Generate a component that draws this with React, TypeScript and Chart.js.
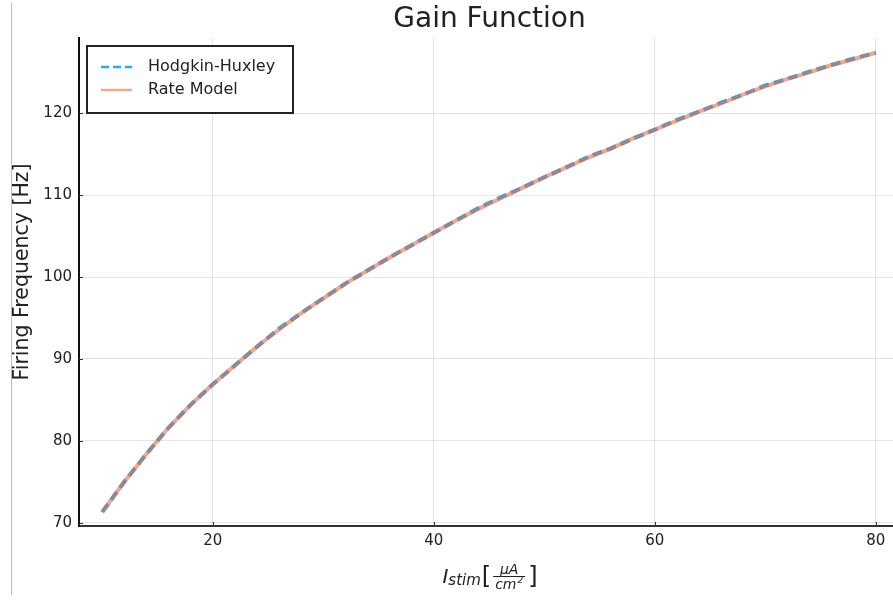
import React, { useEffect, useRef } from "react";
import { Chart, registerables } from "chart.js";
Chart.register(...registerables);

const currents = [10, 12, 14, 16, 18, 20, 22, 24, 26, 28, 30, 32, 34, 36, 38, 40, 42, 44, 46, 48, 50, 52, 54, 56, 58, 60, 62, 64, 66, 68, 70, 72, 74, 76, 78, 80];
const hhRates = [71.3, 75.0, 78.4, 81.6, 84.4, 86.9, 89.2, 91.5, 93.7, 95.6, 97.4, 99.2, 100.8, 102.4, 103.9, 105.4, 106.9, 108.4, 109.7, 110.9, 112.2, 113.4, 114.7, 115.7, 116.9, 118.0, 119.2, 120.2, 121.3, 122.3, 123.4, 124.2, 125.1, 125.9, 126.7, 127.4];
const rateModelRates = [71.3, 75.0, 78.4, 81.6, 84.4, 86.9, 89.2, 91.5, 93.6, 95.6, 97.4, 99.2, 100.8, 102.4, 103.9, 105.4, 106.9, 108.3, 109.6, 110.9, 112.2, 113.4, 114.6, 115.7, 116.9, 118.0, 119.1, 120.2, 121.2, 122.3, 123.3, 124.2, 125.0, 125.9, 126.6, 127.4];
const xTicks = [20, 40, 60, 80];
const yTicks = [70, 80, 90, 100, 110, 120];
const seriesNames = ["Hodgkin-Huxley", "Rate Model"];
const chartTitle = "Gain Function";
const yAxisLabel = "Firing Frequency [Hz]";

const FONT = "'DejaVu Sans', sans-serif";
const HH_COLOR = "rgba(0,154,250,0.85)";
const RATE_COLOR = "rgba(227,111,71,0.6)";
const TEXT = "#222";

const decorPlugin = {
  id: "decor",
  beforeDraw(chart: any) {
    const ctx = chart.ctx;
    ctx.save();
    ctx.strokeStyle = "#bdbdbd";
    ctx.lineWidth = 1;
    ctx.beginPath();
    ctx.moveTo(11.5, 3);
    ctx.lineTo(11.5, 595);
    ctx.stroke();
    ctx.restore();
  },
  afterDraw(chart: any) {
    const ctx = chart.ctx;
    const area = chart.chartArea;
    const xs = chart.scales.x;
    const ys = chart.scales.y;
    ctx.save();
    // inward tick marks
    ctx.strokeStyle = "#333";
    ctx.lineWidth = 1;
    ctx.beginPath();
    xTicks.forEach((v) => {
      const px = Math.round(xs.getPixelForValue(v)) + 0.5;
      ctx.moveTo(px, area.bottom);
      ctx.lineTo(px, area.bottom - 4);
    });
    yTicks.forEach((v) => {
      const py = Math.round(ys.getPixelForValue(v)) + 0.5;
      ctx.moveTo(area.left, py);
      ctx.lineTo(area.left + 4, py);
    });
    ctx.stroke();

    // title
    ctx.fillStyle = TEXT;
    ctx.font = `28px ${FONT}`;
    ctx.textAlign = "center";
    ctx.textBaseline = "alphabetic";
    ctx.fillText(chartTitle, 489.5, 27);

    // y label
    ctx.save();
    ctx.translate(28, 272);
    ctx.rotate(-Math.PI / 2);
    ctx.font = `20.5px ${FONT}`;
    ctx.textAlign = "center";
    ctx.fillText(yAxisLabel, 0, 0);
    ctx.restore();

    // x label: I_stim [ μA / cm² ]
    ctx.textAlign = "left";
    const fI = `italic 20px ${FONT}`;
    const fS = `italic 15px ${FONT}`;
    const fB = `24px ${FONT}`;
    const fF = `italic 14px ${FONT}`;
    const fSup = `italic 9px ${FONT}`;
    ctx.font = fI; const wI = ctx.measureText("I").width;
    ctx.font = fS; const wS = ctx.measureText("stim").width;
    ctx.font = fB; const wB1 = ctx.measureText("[").width; const wB2 = ctx.measureText("]").width;
    ctx.font = fF; const wNum = ctx.measureText("μA").width; const wCm = ctx.measureText("cm").width;
    ctx.font = fSup; const wSup = ctx.measureText("2").width;
    const wDen = wCm + wSup + 1;
    const wFrac = Math.max(wNum, wDen) + 4;
    const total = wI + wS + 1 + wB1 + 2 + wFrac + 3 + wB2;
    let x = (area.left + area.right) / 2 - total / 2 + 1;
    ctx.font = fI; ctx.fillText("I", x, 583); x += wI;
    ctx.font = fS; ctx.fillText("stim", x, 585); x += wS + 1;
    ctx.font = fB; ctx.fillText("[", x, 584); x += wB1 + 2;
    const fx = x;
    ctx.font = fF; ctx.fillText("μA", fx + (wFrac - wNum) / 2, 574);
    ctx.fillText("cm", fx + (wFrac - wDen) / 2, 589);
    ctx.font = fSup; ctx.fillText("2", fx + (wFrac - wDen) / 2 + wCm + 1, 583);
    ctx.strokeStyle = TEXT;
    ctx.lineWidth = 1;
    ctx.beginPath();
    ctx.moveTo(fx, 576.5);
    ctx.lineTo(fx + wFrac, 576.5);
    ctx.stroke();
    x += wFrac + 3;
    ctx.font = fB; ctx.fillText("]", x, 584);

    // legend
    ctx.fillStyle = "#fff";
    ctx.fillRect(87, 46, 206, 67);
    ctx.strokeStyle = "#222";
    ctx.lineWidth = 2;
    ctx.strokeRect(87, 46, 206, 67);
    const rows = [
      { name: seriesNames[0], color: HH_COLOR, dash: [8, 4], y: 67 },
      { name: seriesNames[1], color: RATE_COLOR, dash: [], y: 90 },
    ];
    rows.forEach((r) => {
      ctx.strokeStyle = r.color;
      ctx.lineWidth = 2.5;
      ctx.setLineDash(r.dash);
      ctx.beginPath();
      ctx.moveTo(101, r.y);
      ctx.lineTo(132, r.y);
      ctx.stroke();
      ctx.setLineDash([]);
      ctx.fillStyle = TEXT;
      ctx.font = `16px ${FONT}`;
      ctx.textBaseline = "middle";
      ctx.fillText(r.name, 148, r.y);
    });
    ctx.restore();
  },
};

export default function App() {
  const ref = useRef<HTMLCanvasElement | null>(null);
  useEffect(() => {
    if (!ref.current) return;
    const chart = new Chart(ref.current, {
      type: "line",
      data: {
        datasets: [
          {
            label: seriesNames[0],
            data: currents.map((c, i) => ({ x: c, y: hhRates[i] })),
            borderColor: HH_COLOR,
            borderWidth: 4,
            borderDash: [10, 5],
            pointRadius: 0,
            fill: false,
            tension: 0,
            order: 1,
          },
          {
            label: seriesNames[1],
            data: currents.map((c, i) => ({ x: c, y: rateModelRates[i] })),
            borderColor: RATE_COLOR,
            borderWidth: 4,
            pointRadius: 0,
            fill: false,
            tension: 0,
            order: 0,
          },
        ],
      },
      options: {
        responsive: false,
        animation: false,
        devicePixelRatio: 1,
        layout: { padding: { left: 0, right: 6, top: 38, bottom: 0 } },
        plugins: { legend: { display: false }, title: { display: false }, tooltip: { enabled: false } },
        scales: {
          x: {
            type: "linear",
            min: 7.9,
            max: 82.1,
            afterBuildTicks: (s: any) => { s.ticks = xTicks.map((v) => ({ value: v })); },
            afterFit: (s: any) => { s.height = 77; },
            grid: { color: "rgba(0,0,0,0.1)", lineWidth: 1, drawTicks: false },
            border: { display: true, color: "#333", width: 2 },
            ticks: { color: TEXT, font: { family: FONT, size: 15 }, padding: 6, maxRotation: 0 },
          },
          y: {
            type: "linear",
            min: 69.6,
            max: 129.2,
            afterBuildTicks: (s: any) => { s.ticks = yTicks.map((v) => ({ value: v })); },
            afterFit: (s: any) => { s.width = 79; },
            grid: { color: "rgba(0,0,0,0.1)", lineWidth: 1, drawTicks: false },
            border: { display: true, color: "#111", width: 2 },
            ticks: { color: TEXT, font: { family: FONT, size: 15 }, padding: 7 },
          },
        },
      },
      plugins: [decorPlugin],
    });
    return () => chart.destroy();
  }, []);
  return (
    <div style={{ position: "absolute", left: 0, top: 0, width: 893, height: 603, overflow: "hidden", background: "#fff" }}>
      <canvas ref={ref} width={905} height={603} style={{ width: 905, height: 603, display: "block" }} />
    </div>
  );
}
